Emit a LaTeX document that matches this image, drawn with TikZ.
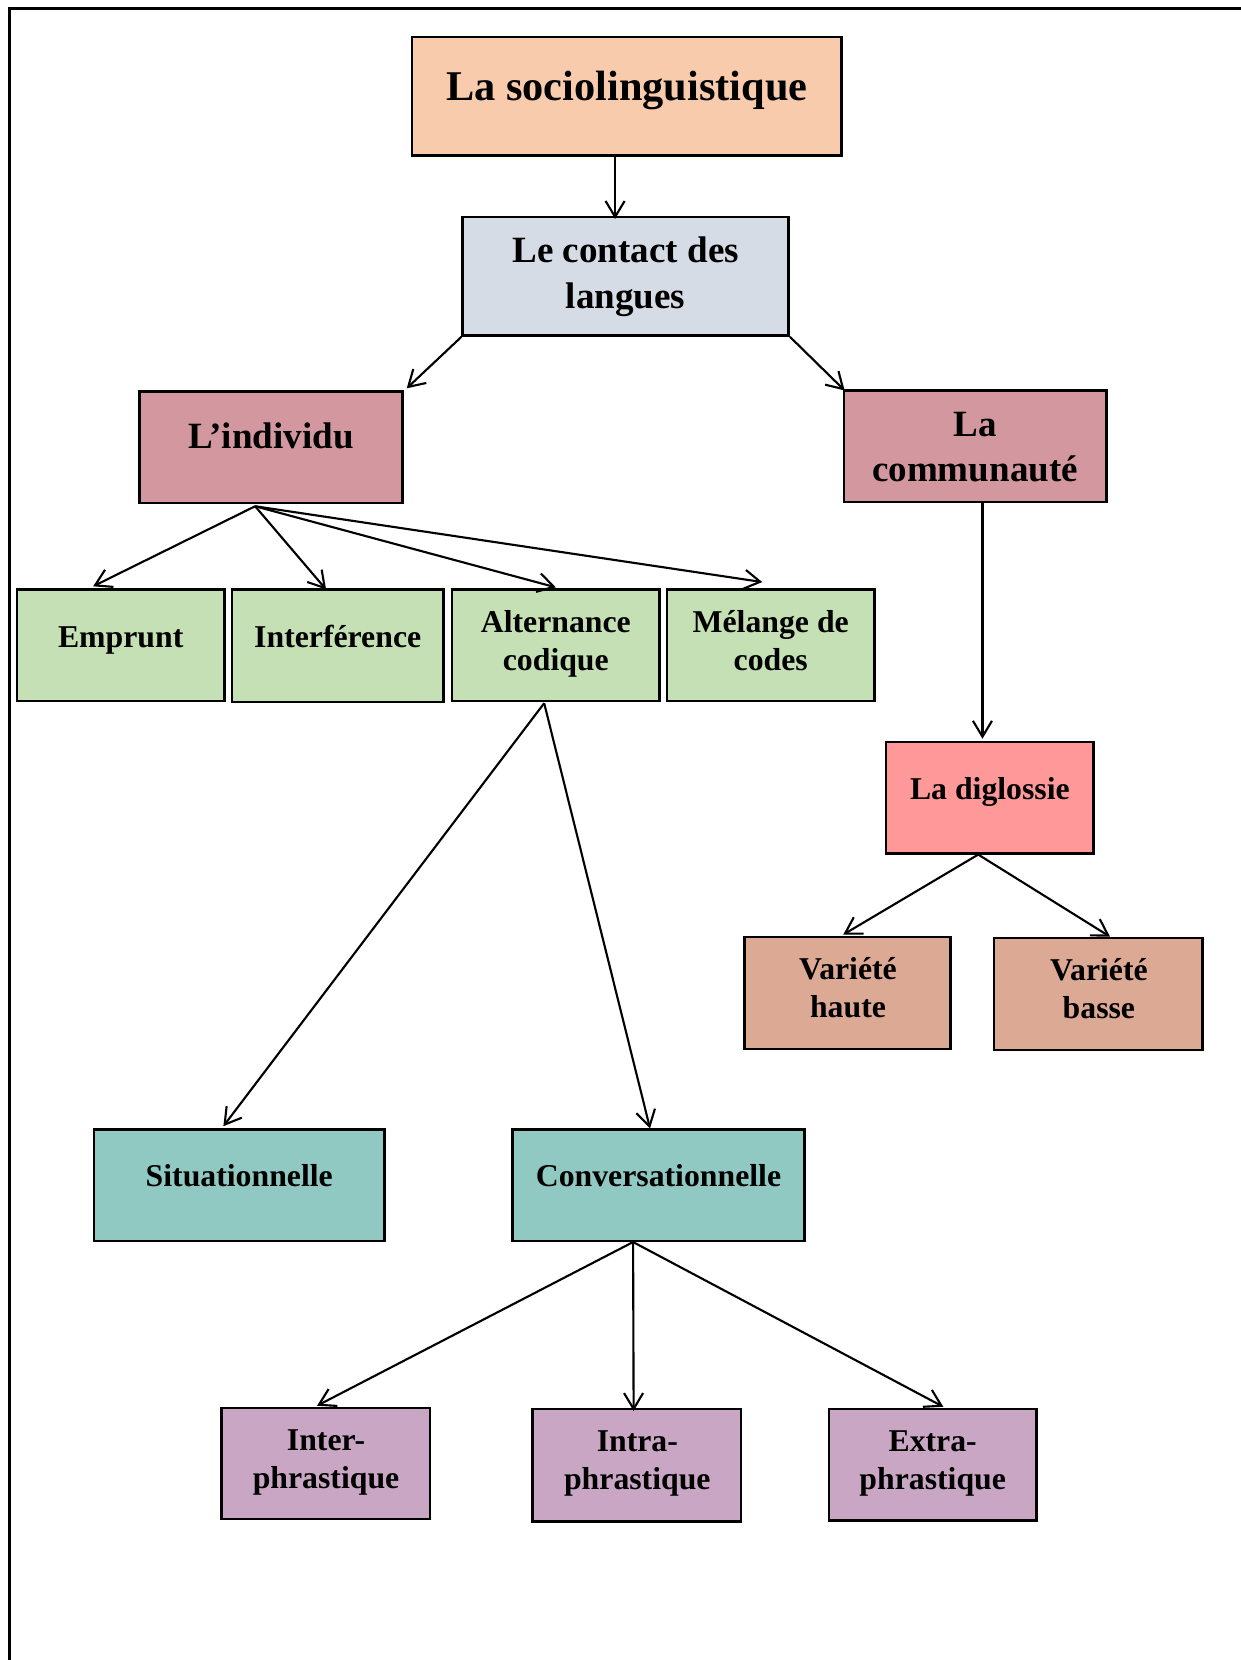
\documentclass[tikz,border=0pt]{standalone}
\usepackage{fontspec}
\setmainfont{Liberation Serif}
\usetikzlibrary{arrows.meta,calc,fit}
\definecolor{cTitle}{HTML}{F8CBAD}
\definecolor{cContact}{HTML}{D6DCE5}
\definecolor{cMauve}{HTML}{D3989F}
\definecolor{cGreen}{HTML}{C5E0B4}
\definecolor{cDig}{HTML}{FF9999}
\definecolor{cVar}{HTML}{DBA994}
\definecolor{cTeal}{HTML}{8FC9C2}
\definecolor{cPurple}{HTML}{C9A7C4}
\begin{document}
\begin{tikzpicture}[x=0.5pt,y=-0.5pt,
  box/.style={draw=black, line width=1.2pt, inner sep=0pt},
  lbl/.style={align=center, inner sep=0pt, font=\bfseries\fontsize{15}{18}\selectfont},
  lblmid/.style={align=center, inner sep=0pt, font=\bfseries\fontsize{17.5}{21.5}\selectfont},
  lblbig/.style={align=center, inner sep=0pt, font=\bfseries\fontsize{20}{24}\selectfont},
  conn/.style={line width=1pt, -{Straight Barb[length=7.5pt,width=9pt]}},
  frameline/.style={line width=1.8pt}
]
\useasboundingbox (0,0) rectangle (1172,1568);
\draw[frameline] (9,1580) -- (9,8) -- (1180,8);

% boxes
\node[box, fill=cTitle, fit={(389,35) (795,147)}] (title) {};
\node[box, fill=cContact, fit={(437,205) (745,317)}] (contact) {};
\node[box, fill=cMauve, fit={(132,370) (380,475)}] (ind) {};
\node[box, fill=cMauve, fit={(797,369) (1045,474)}] (comm) {};
\node[box, fill=cGreen, fit={(16,557) (212,662)}] (emp) {};
\node[box, fill=cGreen, fit={(219,557) (419,663)}] (int) {};
\node[box, fill=cGreen, fit={(427,557) (623,662)}] (alt) {};
\node[box, fill=cGreen, fit={(630,557) (826,662)}] (mel) {};
\node[box, fill=cDig, fit={(837,701) (1033,806)}] (dig) {};
\node[box, fill=cVar, fit={(703,885) (898,991)}] (vh) {};
\node[box, fill=cVar, fit={(939,886) (1136,992)}] (vb) {};
\node[box, fill=cTeal, fit={(89,1067) (363,1172)}] (situ) {};
\node[box, fill=cTeal, fit={(484,1067) (760,1172)}] (conv) {};
\node[box, fill=cPurple, fit={(209,1330) (406,1435)}] (inter) {};
\node[box, fill=cPurple, fit={(503,1331) (700,1437)}] (intra) {};
\node[box, fill=cPurple, fit={(783,1331) (979,1436)}] (extra) {};

% texts
\node[lblbig] (title-t) at (592,85) {\strut La sociolinguistique};
\node[lblmid] (contact-t) at (591,261) {\strut Le contact des\\\strut langues};
\node[lblmid] (ind-t) at (256,415) {\strut L’individu};
\node[lblmid] (comm-t) at (921,425) {\strut La\\\strut communauté};
\node[lbl] (emp-t) at (114,604) {\strut Emprunt};
\node[lbl] (int-t) at (319,604) {\strut Interférence};
\node[lbl] (alt-t) at (525,608) {\strut Alternance\\\strut codique};
\node[lbl] (mel-t) at (728,608) {\strut Mélange de\\\strut codes};
\node[lbl] (dig-t) at (935,748) {\strut La diglossie};
\node[lbl] (vh-t) at (801,936) {\strut Variété\\\strut haute};
\node[lbl] (vb-t) at (1038,937) {\strut Variété\\\strut basse};
\node[lbl] (situ-t) at (226,1114) {\strut Situationnelle};
\node[lbl] (conv-t) at (622,1114) {\strut Conversationnelle};
\node[lbl] (inter-t) at (308,1381) {\strut Inter-\\\strut phrastique};
\node[lbl] (intra-t) at (602,1382) {\strut Intra-\\\strut phrastique};
\node[lbl] (extra-t) at (881,1382) {\strut Extra-\\\strut phrastique};

% connectors
\draw[conn] ($(title.south)+(-11,0)$) -- ($(contact.north)+(-10,3)$);
\draw[conn] (contact.south west) -- ($(ind.north east)+(3,-2)$);
\draw[conn] (contact.south east) -- ($(comm.north west)+(2,1)$);
\draw[conn] ($(ind.south)+(-15,2)$) -- ($(emp.north)+(-26,-2)$);
\draw[conn] ($(ind.south)+(-15,2)$) -- ($(int.north)+(-11,1)$);
\draw[conn] ($(ind.south)+(-15,2)$) -- ($(alt.north)+(0,-1)$);
\draw[conn] ($(ind.south)+(-15,2)$) -- ($(mel.north)+(-8,-6)$);
\draw[conn] ($(comm.south)+(7,0)$) -- ($(dig.north)+(-7,-2)$);
\draw[conn] ($(alt.south)+(-11,1)$) -- ($(situ.north)+(-15,-2)$);
\draw[conn] ($(alt.south)+(-11,1)$) -- ($(conv.north)+(-8,0)$);
\draw[conn] ($(dig.south)+(-11,0)$) -- ($(vh.north)+(-4,-1)$);
\draw[conn] ($(dig.south)+(-11,0)$) -- ($(vb.north)+(11,0)$);
\draw[conn] ($(conv.south)+(-24,0)$) -- ($(inter.north)+(-8,-1)$);
\draw[conn] ($(conv.south)+(-24,0)$) -- ($(intra.north)+(-3,3)$);
\draw[conn] ($(conv.south)+(-24,0)$) -- ($(extra.north)+(10,-1)$);
\end{tikzpicture}
\end{document}
